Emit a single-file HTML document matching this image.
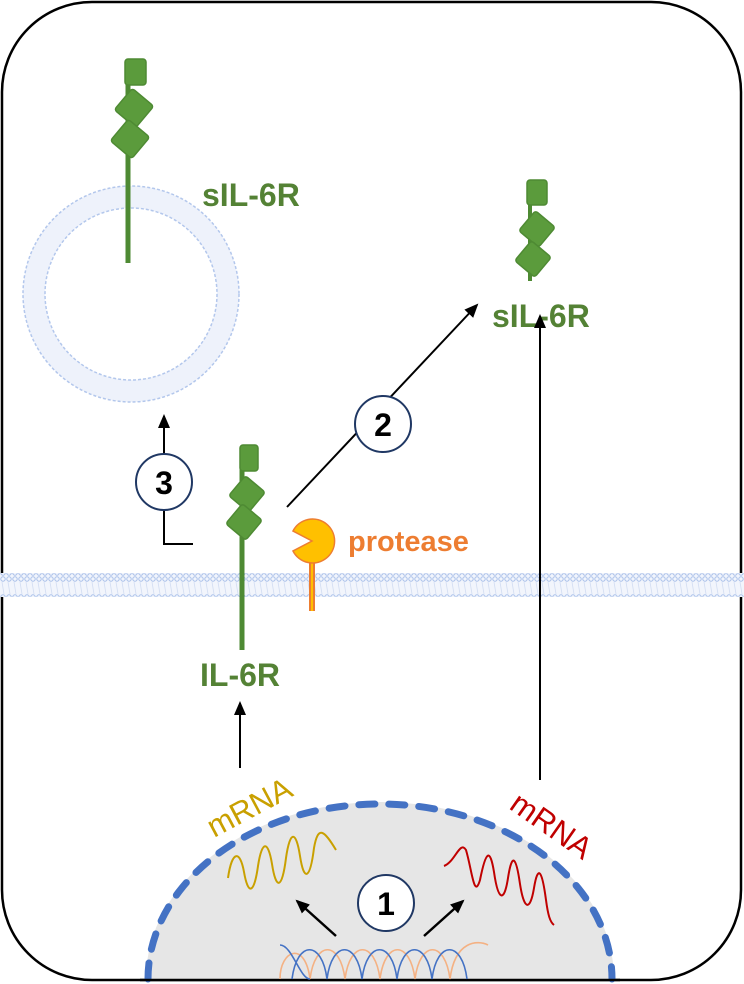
<!DOCTYPE html>
<html><head><style>html,body{margin:0;padding:0;background:#fff}svg{display:block}</style></head>
<body>
<svg width="744" height="984" viewBox="0 0 744 984" xmlns="http://www.w3.org/2000/svg" font-family="Liberation Sans, sans-serif">
<defs>
<marker id="ah" markerWidth="14" markerHeight="14" refX="12" refY="7" orient="auto" markerUnits="userSpaceOnUse"><path d="M0,1 L14,7 L0,13 z" fill="#000"/></marker>
<pattern id="mem" width="6" height="24" patternUnits="userSpaceOnUse"><rect width="6" height="24" fill="#f2f5fc"/><circle cx="3" cy="3" r="2.2" fill="none" stroke="#a9c0ea" stroke-width="1"/><circle cx="3" cy="21" r="2.2" fill="none" stroke="#a9c0ea" stroke-width="1"/><line x1="2" y1="6" x2="4" y2="18" stroke="#d3ddf2" stroke-width="0.8"/></pattern>
</defs>
<rect x="2" y="2" width="739" height="978" rx="90" ry="90" fill="#fff" stroke="#000" stroke-width="2.5"/>
<!-- nucleus -->
<path d="M146,979 A234,177 0 0 1 614,979 Z" fill="#e6e6e6"/>
<path d="M148,979 A232,175 0 0 1 612,979" fill="none" stroke="#4472c4" stroke-width="7" stroke-dasharray="16,14" stroke-linecap="round"/>
<line x1="140" y1="980" x2="620" y2="980" stroke="#000" stroke-width="2.5"/>
<!-- membrane -->
<rect x="0" y="573" width="744" height="24" fill="url(#mem)"/>
<!-- vesicle -->
<circle cx="131" cy="294" r="97" fill="none" stroke="#eef2fb" stroke-width="22"/>
<circle cx="131" cy="294" r="108" fill="none" stroke="#b3c7ec" stroke-width="1.5" stroke-dasharray="3,2"/>
<circle cx="131" cy="294" r="86" fill="none" stroke="#b3c7ec" stroke-width="1.5" stroke-dasharray="3,2"/>
<!-- vesicle receptor -->
<g fill="#5b9b3c" stroke="#4e8a33" stroke-width="1.5">
<line x1="128" y1="80" x2="128" y2="263" stroke-width="5"/>
<rect x="125" y="59" width="21" height="26" rx="3"/>
<rect x="-14" y="-14" width="28" height="28" rx="3" transform="translate(134,108) rotate(40)"/>
<rect x="-14" y="-14" width="28" height="28" rx="3" transform="translate(130,139) rotate(40)"/>
</g>
<text x="202" y="206" font-size="32" font-weight="bold" fill="#548235">sIL-6R</text>
<!-- right receptor -->
<g fill="#5b9b3c" stroke="#4e8a33" stroke-width="1.5">
<line x1="530" y1="200" x2="530" y2="281" stroke-width="4"/>
<rect x="527" y="180" width="20" height="25" rx="3"/>
<rect x="-13" y="-13" width="26" height="26" rx="3" transform="translate(537,229) rotate(40)"/>
<rect x="-13" y="-13" width="26" height="26" rx="3" transform="translate(533,259) rotate(40)"/>
</g>
<text x="492" y="327" font-size="32" font-weight="bold" fill="#548235">sIL-6R</text>
<!-- IL-6R -->
<g fill="#5b9b3c" stroke="#4e8a33" stroke-width="1.5">
<line x1="242" y1="465" x2="242" y2="650" stroke-width="5"/>
<rect x="240" y="445" width="18" height="26" rx="3"/>
<rect x="-13" y="-13" width="26" height="26" rx="3" transform="translate(247,494) rotate(40)"/>
<rect x="-13" y="-13" width="26" height="26" rx="3" transform="translate(244,522) rotate(40)"/>
</g>
<text x="240" y="686" font-size="32" font-weight="bold" fill="#548235" text-anchor="middle">IL-6R</text>
<!-- protease -->
<line x1="312" y1="560" x2="312" y2="611" stroke="#ed7d31" stroke-width="6"/>
<line x1="312" y1="560" x2="312" y2="611" stroke="#ffc000" stroke-width="2"/>
<path d="M312,541 L293,531 A22,22 0 1 1 293,551 Z" fill="#ffc000" stroke="#ed7d31" stroke-width="1.5"/>
<text x="348" y="551" font-size="29" font-weight="bold" fill="#ed7d31">protease</text>
<!-- arrows -->
<g stroke="#000" stroke-width="2" fill="none">
<polyline points="164,510 164,544 193,544"/>
<line x1="164" y1="454" x2="164" y2="416" marker-end="url(#ah)"/>
<line x1="287" y1="507" x2="477" y2="305" marker-end="url(#ah)"/>
<line x1="540" y1="780" x2="540" y2="316" marker-end="url(#ah)"/>
<line x1="240" y1="768" x2="240" y2="703" marker-end="url(#ah)"/>
<line x1="336" y1="936" x2="297" y2="901" marker-end="url(#ah)" stroke-width="2.5"/>
<line x1="424" y1="936" x2="463" y2="901" marker-end="url(#ah)" stroke-width="2.5"/>
</g>
<g fill="#fff" stroke="#203864" stroke-width="2">
<circle cx="164" cy="482" r="28"/>
<circle cx="383" cy="424" r="28"/>
<circle cx="386" cy="903" r="28"/>
</g>
<g font-size="32" font-weight="bold" text-anchor="middle" fill="#000">
<text x="164" y="494">3</text><text x="383" y="436">2</text><text x="386" y="915">1</text>
</g>
<!-- mRNA labels -->
<text x="0" y="0" font-size="31" fill="#c9a000" transform="translate(214,838) rotate(-28)">mRNA</text>
<text x="0" y="0" font-size="31" fill="#c00000" transform="translate(508,808) rotate(35)">mRNA</text>
<path d="M228,878 C232,850 240,850 244,872 C248,895 254,895 258,866 C262,840 268,840 272,864 C276,890 282,890 286,858 C290,830 296,830 300,856 C304,882 310,880 314,848 C318,825 324,830 336,850" fill="none" stroke="#c9a000" stroke-width="2"/>
<path d="M444,866 C455,862 460,840 466,850 C472,870 474,900 480,880 C486,850 490,848 494,872 C498,900 504,904 508,878 C512,852 516,856 520,884 C524,910 530,912 534,888 C538,864 542,870 546,900 C548,915 550,922 554,925" fill="none" stroke="#c00000" stroke-width="2"/>
<!-- DNA -->
<g fill="none" stroke-width="1.6">
<path d="M280,979 C280,950 305,940 310,979 C315,940 340,940 345,979 C350,940 375,940 380,979 C385,940 410,940 415,979 C420,940 445,940 450,979 C455,940 478,940 488,945" stroke="#f4b183"/>
<path d="M280,945 C292,945 300,979 310,979 M292,979 C297,940 322,940 327,979 C332,940 357,940 362,979 C367,940 392,940 397,979 C402,940 427,940 432,979 C437,940 462,940 467,979" stroke="#4472c4"/>
</g>
</svg>
</body></html>
